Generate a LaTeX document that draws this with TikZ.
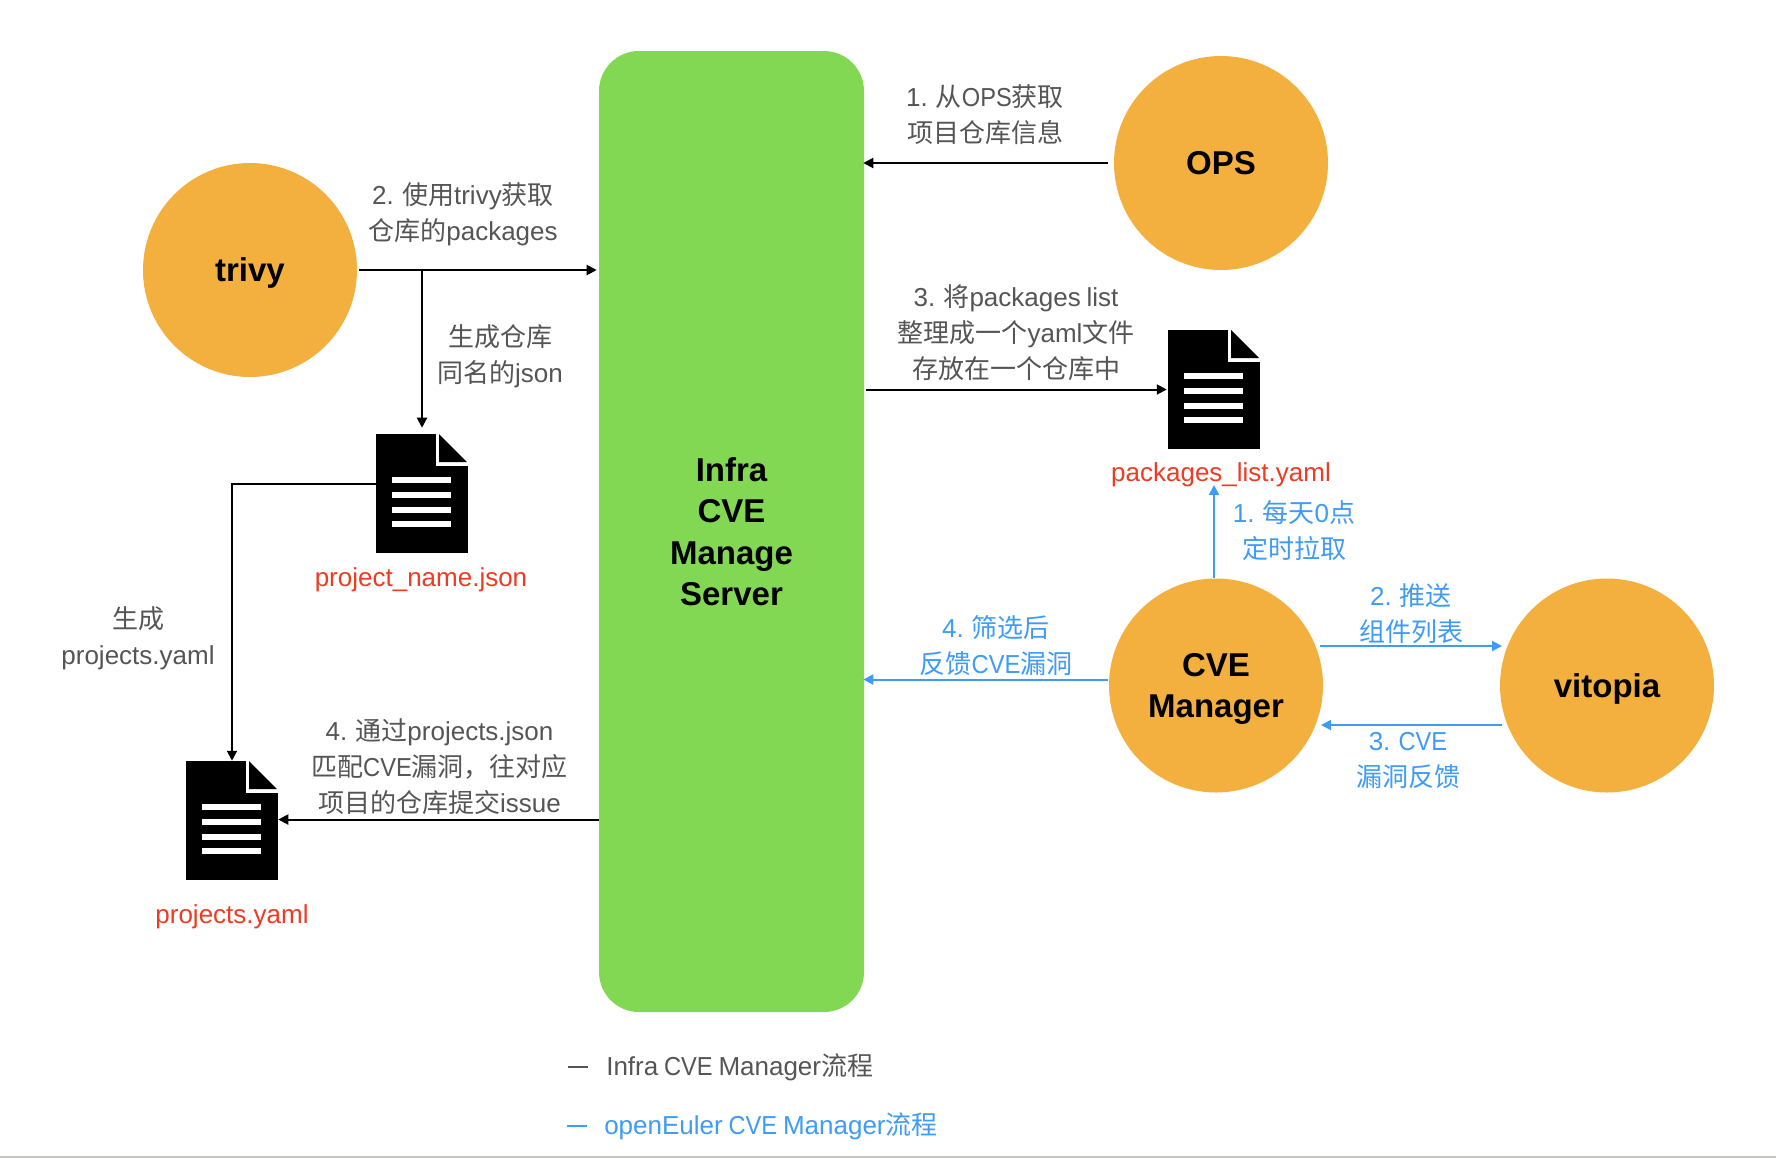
\documentclass[tikz,border=0pt]{standalone}
\usepackage{fontspec}
\setmainfont[WordSpace=0.8]{Liberation Sans}
\newfontfamily\cjk{Noto Sans CJK SC}
\newfontfamily\capsf[FakeStretch=0.91]{Liberation Sans}
\newcommand\zh[1]{{\cjk #1}}
\newcommand\capsx[1]{{\capsf #1}}
\usetikzlibrary{arrows.meta,calc}
\definecolor{orangec}{HTML}{F4B03E}
\definecolor{greenc}{HTML}{83D853}
\definecolor{bluec}{HTML}{3E9BF8}
\definecolor{redc}{HTML}{EE3B24}
\definecolor{grayc}{HTML}{555555}
\definecolor{rulec}{HTML}{C8C4BE}
\tikzset{
  flow/.style={line width=1.5pt,-{Triangle[length=7.5pt,width=7.5pt]}},
  blueflow/.style={flow,draw=bluec},
  circ/.style={circle,fill=orangec,minimum size=160.5pt,inner sep=0pt,align=center,text depth=0pt,
    font=\fontsize{24.75}{31.4}\selectfont\bfseries,text=black},
  lab/.style={inner sep=0pt,align=center,font=\fontsize{19.5}{27}\selectfont,text=grayc},
  bluelab/.style={lab,text=bluec},
  redlab/.style={lab,text=redc},
  serverbox/.style={rectangle,rounded corners=30pt,fill=greenc,minimum width=198.75pt,minimum height=720.75pt,
    inner sep=0pt,align=center,font=\fontsize{24.75}{31.1}\selectfont\bfseries},
  docicon/.style={rectangle,fill=black,minimum width=69pt,minimum height=89.25pt,inner sep=0pt,
    path picture={
      \coordinate (nw) at (path picture bounding box.north west);
      \fill[white] ([shift={(60,-1)}]nw) rectangle ([shift={(93,32)}]nw);
      \fill[black] ([shift={(63,0)}]nw) -- ([shift={(91,28)}]nw) -- ([shift={(63,28)}]nw) -- cycle;
      \foreach \yy in {43,58,73,87}
        \fill[white] ([shift={(16,\yy)}]nw) rectangle ([shift={(75,\yy+6)}]nw);
    }},
}
\begin{document}
\begin{tikzpicture}[x=0.75pt,y=-0.75pt]
\useasboundingbox (0,0) rectangle (1776,1158);
\fill[white] (0,0) rectangle (1776,1158);
\fill[rulec] (0,1156) rectangle (1776,1158);

\node[serverbox] (srv) at (731.5,531.5) {Infra\\CVE\\Manage\\Server};
\node[circ] (ops) at (1221,163) {OPS};
\node[circ] (trivy) at (250,270) {trivy};
\node[circ] (cve) at (1216,685.5) {CVE\\Manager};
\node[circ] (vit) at (1607,685.5) {vitopia};

\node[docicon] (pkg) at (1214,389.5) {};
\node[docicon] (jsondoc) at (422,493.5) {};
\node[docicon] (yamldoc) at (232,820.5) {};

\node[lab] (l1) at (985,115) {1. \zh{从}\capsx{OPS}\zh{获取}\\\zh{项目仓库信息}};
\node[lab] (l2) at (463,214) {2. \zh{使用}trivy\zh{获取}\\\zh{仓库的}packages};
\node[lab] (l3) at (500,356.5) {\zh{生成仓库}\\\zh{同名的}json};
\node[lab] (l4) at (1016,333) {3. \zh{将}packages list\\\zh{整理成一个}yaml\zh{文件}\\\zh{存放在一个仓库中}};
\node[lab] (l5) at (138,638) {\zh{生成}\\projects.yaml};
\node[lab] (l6) at (439.5,767) {4. \zh{通过}projects.json\\\zh{匹配}\capsx{CVE}\zh{漏洞，往对应}\\\zh{项目的仓库提交}issue};
\node[redlab] (pkgname) at (1221,475) {packages\_list.yaml};
\node[redlab] (jsonname) at (421,580) {project\_name.json};
\node[redlab] (yamlname) at (232,917) {projects.yaml};
\node[bluelab] (b1) at (1294,531) {1. \zh{每天}0\zh{点}\\\zh{定时拉取}};
\node[bluelab] (b2) at (1411,614) {2. \zh{推送}\\\zh{组件列表}};
\node[bluelab] (b3) at (1408,760) {3. \capsx{CVE}\\\zh{漏洞反馈}};
\node[bluelab] (b4) at (996,646) {4. \zh{筛选后}\\\zh{反馈}\capsx{CVE}\zh{漏洞}};

% black connectors
\draw[flow,shorten >=-0.75pt] ([xshift=-4.5pt]ops.west) -- (ops.west -| srv.east);
\draw[flow,shorten >=1.5pt] ([xshift=1.5pt]trivy.east) -- (trivy.east -| srv.west);
\coordinate (branch) at (trivy.east -| jsondoc.north);
\draw[flow,shorten >=4.5pt] (branch) -- (jsondoc.north);
\draw[flow,shorten >=0.75pt] ([xshift=1.5pt]srv.east |- pkg.west) -- (pkg.west);
\draw[flow,line join=miter] ([yshift=7.1pt]jsondoc.west) -| (yamldoc.north);
\coordinate (yout) at ([yshift=0.75pt]yamldoc.east);
\draw[flow] (srv.west |- yout) -- (yout);

% blue connectors
\coordinate (ptip) at (1214,485);
\draw[blueflow] (ptip |- cve.north) -- (ptip);
\coordinate (cvel) at ([shift={(-1,-6)}]cve.west);
\draw[blueflow,shorten >=-0.75pt] (cvel) -- (cvel -| srv.east);
\coordinate (pa) at ([shift={(104,-39.5)}]cve.center);
\coordinate (pb) at ([shift={(-105,-39.5)}]vit.center);
\draw[blueflow] (pa) -- (pb);
\coordinate (pc) at ([shift={(-105,39.5)}]vit.center);
\coordinate (pd) at ([shift={(105,39.5)}]cve.center);
\draw[blueflow] (pc) -- (pd);

% legend
\node[lab,anchor=west] (lg1) at (606,1067) {Infra \capsx{CVE} Manager\zh{流程}};
\node[bluelab,anchor=west] (lg2) at (604,1126) {openEuler \capsx{CVE} Manager\zh{流程}};
\draw[grayc,line width=1.5pt] (568,1067) -- (588,1067);
\draw[bluec,line width=1.5pt] (567,1126) -- (587,1126);
\end{tikzpicture}
\end{document}
